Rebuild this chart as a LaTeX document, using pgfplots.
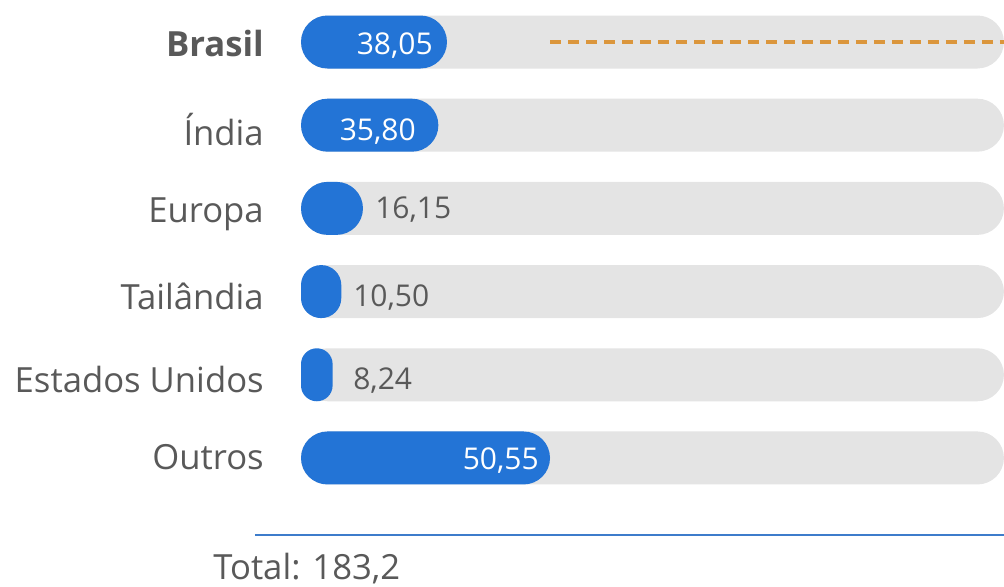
\documentclass[border=0pt]{standalone}
\usepackage{fontspec}
\setmainfont{Open Sans}
\usepackage{pgfplots}
\pgfplotsset{compat=1.18}
\definecolor{barblue}{HTML}{2374D6}
\definecolor{trackgray}{HTML}{E4E4E4}
\definecolor{dashorange}{HTML}{DB963C}
\definecolor{txtgray}{HTML}{595959}
\definecolor{lineblue}{HTML}{3D7CCB}
\newcommand{\lblfont}{\fontsize{26pt}{30pt}\selectfont}
\newcommand{\valfont}{\fontsize{22.5pt}{27pt}\selectfont}
\begin{document}
\begin{tikzpicture}
\begin{axis}[
  scale only axis,
  width=527.25pt, height=374.4pt,
  xmin=0, xmax=183.2,
  ymin=-0.5, ymax=5.5,
  y dir=reverse,
  axis lines=none,
  ticks=none,
  clip=false,
  every axis plot/.append style={xbar, bar shift=0pt, bar width=39.75pt, draw=none},
]
% background tracks (total = 183,2)
\addplot[fill=trackgray, rounded corners=19.875pt] coordinates {(183.2,0) (183.2,1) (183.2,2) (183.2,3) (183.2,4) (183.2,5)};
% blue bars
\addplot[fill=barblue, rounded corners=19.875pt] coordinates {(38.05,0)};
\addplot[fill=barblue, rounded corners=19.875pt] coordinates {(35.80,1)};
\addplot[fill=barblue, rounded corners=19.875pt] coordinates {(16.15,2)};
\addplot[fill=barblue, rounded corners=15pt] coordinates {(10.50,3)};
\addplot[fill=barblue, rounded corners=11.85pt] coordinates {(8.24,4)};
\addplot[fill=barblue, rounded corners=19.875pt] coordinates {(64.9,5)};
% dashed reference line
\addplot[sharp plot, draw=dashorange, line width=2.4pt, dash pattern=on 8pt off 5.5pt, forget plot] coordinates {(64.9,0) (183.2,0)};
% category labels
\begin{scope}[every node/.style={inner sep=0pt, text=txtgray, anchor=base east}]
\node[font=\lblfont\bfseries] at (axis cs:-9.64,0.180) {Brasil};
\node[font=\lblfont] at (axis cs:-9.64,1.238) {Índia};
\node[font=\lblfont] at (axis cs:-9.64,2.175) {Europa};
\node[font=\lblfont] at (axis cs:-9.64,3.221) {Tailândia};
\node[font=\lblfont] at (axis cs:-9.64,4.219) {Estados Unidos};
\node[font=\lblfont] at (axis cs:-9.64,5.144) {Outros};
\end{scope}
% value labels
\begin{scope}[every node/.style={inner sep=0pt, font=\valfont}]
\node[anchor=base east, text=white] at (axis cs:34.40,0.156) {38,05};
\node[anchor=base east, text=white] at (axis cs:29.97,1.178) {35,80};
\node[anchor=base west, text=txtgray] at (axis cs:19.29,2.127) {16,15};
\node[anchor=base west, text=txtgray] at (axis cs:13.55,3.185) {10,50};
\node[anchor=base west, text=txtgray] at (axis cs:13.55,4.183) {8,24};
\node[anchor=base east, text=white] at (axis cs:62.03,5.144) {50,55};
\end{scope}
% total line and text
\draw[lineblue, line width=1.2pt] (axis cs:-11.99,5.925) -- (axis cs:183.2,5.925);
\node[inner sep=0pt, anchor=base west, text=txtgray, font=\lblfont] at (axis cs:-22.93,6.455) {Total: 183,2};
\coordinate (bbA) at (axis cs:-78.45,-0.505);
\coordinate (bbB) at (axis cs:183.22,6.55);
\end{axis}
\pgfresetboundingbox
\path[use as bounding box] (bbA) rectangle (bbB);
\end{tikzpicture}
\end{document}
